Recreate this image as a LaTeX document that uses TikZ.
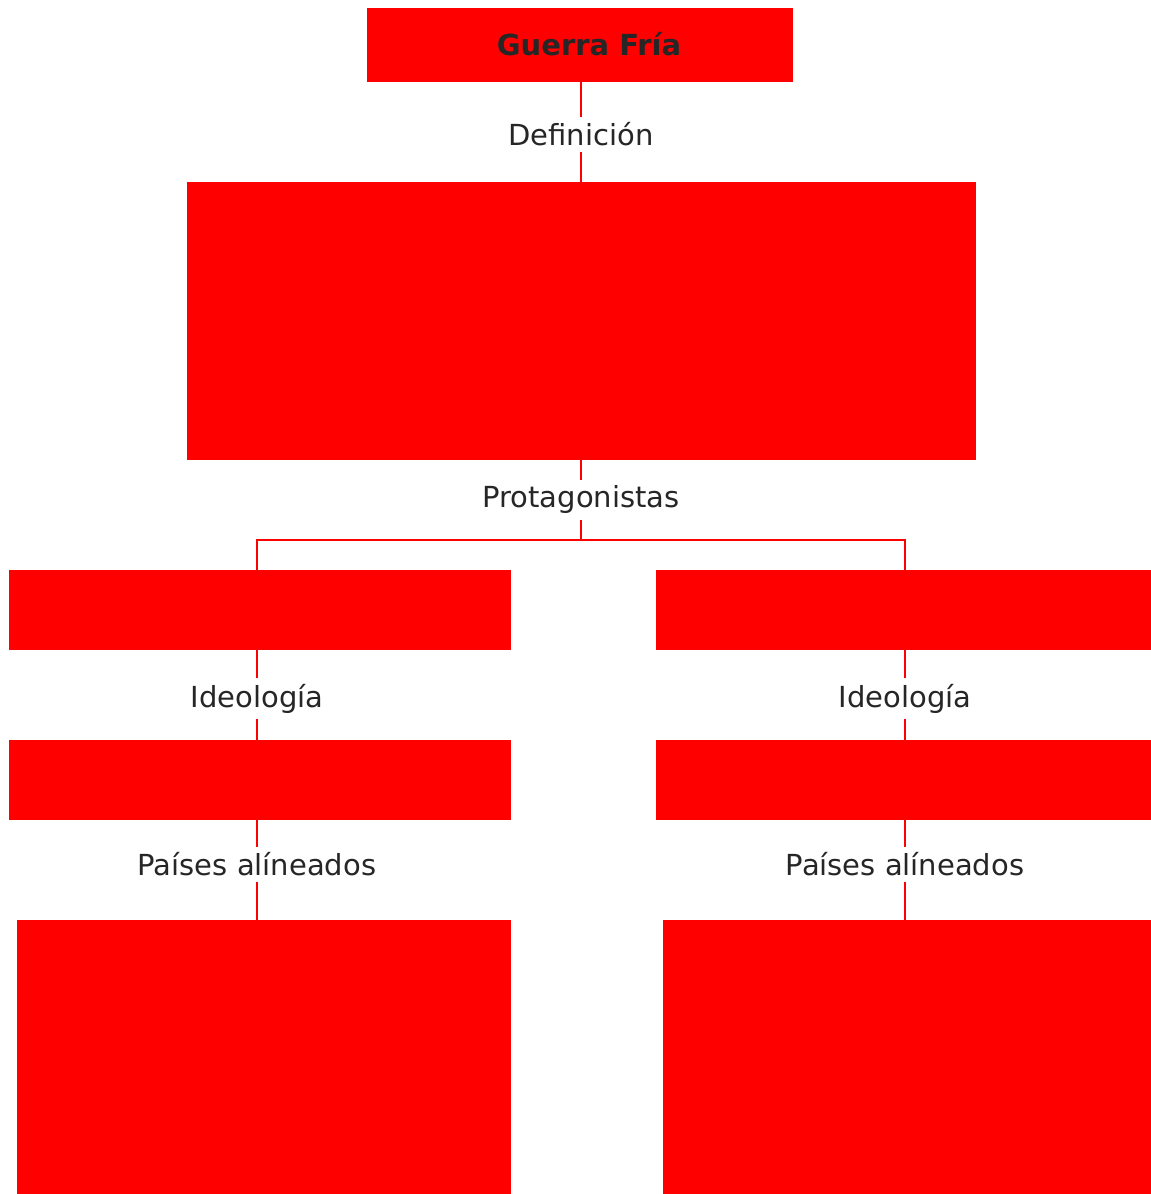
\documentclass[tikz,border=0pt]{standalone}
\usepackage{fontspec}
\setmainfont{DejaVu Sans}
\usetikzlibrary{
    positioning,
    calc
}
\definecolor{boxred}{HTML}{FF0000}
\definecolor{ink}{HTML}{262626}
\tikzset {
    red box/.style = {rectangle, fill = boxred, draw = boxred, inner sep = 0pt},
    link/.style = {draw = boxred, line width = 2pt},
    edge label/.style = {fill = white, text = ink, inner sep = 6pt,
        font = \fontsize{29}{33}\selectfont},
    title/.style = {text = ink, font = \fontsize{29}{33}\selectfont\bfseries}
}
\begin{document}
\begin{tikzpicture}[x = 1pt, y = 1pt]
            \useasboundingbox (0, 0) rectangle (1151, -1194);
            \coordinate (colL) at (257, 0);
            \coordinate (colR) at (905, 0);
            \coordinate (fork) at (581, -540);
            % boxes
            \node (guerra) [red box, minimum width = 425pt, minimum height = 73pt] at (580, -44.5) {};
            \node [title] at (589, -44.5) {Guerra Fría};
            \node (def) [red box, minimum width = 788pt, minimum height = 277pt] at (581, -320.5) {};
            \node (protL) [red box, minimum width = 501pt, minimum height = 79pt] at (259.5, -609.5) {};
            \node (protR) [red box, minimum width = 495pt, minimum height = 79pt] at (903.5, -609.5) {};
            \node (ideoL) [red box, minimum width = 501pt, minimum height = 79pt] at (259.5, -779.5) {};
            \node (ideoR) [red box, minimum width = 495pt, minimum height = 79pt] at (903.5, -779.5) {};
            \node (paisL) [red box, minimum width = 493pt, minimum height = 274pt] at (263.5, -1057) {};
            \node (paisR) [red box, minimum width = 488pt, minimum height = 274pt] at (907, -1057) {};
            % connectors
            \draw [link] (guerra.south -| def.north) -- (def.north)
                node [edge label, midway, yshift = -3pt] {Definición};
            \draw [link] (def.south) -- (fork)
                node [edge label, midway] {Protagonistas};
            \draw [link] (protL.north -| colL) |- (fork) -| (protR.north -| colR);
            \draw [link] (protL.south -| colL) -- (ideoL.north -| colL)
                node [edge label, midway, yshift = -4pt] {Ideología};
            \draw [link] (protR.south -| colR) -- (ideoR.north -| colR)
                node [edge label, midway, yshift = -4pt] {Ideología};
            \draw [link] (ideoL.south -| colL) -- (paisL.north -| colL)
                node [edge label, midway, yshift = 5pt] {Países alíneados};
            \draw [link] (ideoR.south -| colR) -- (paisR.north -| colR)
                node [edge label, midway, yshift = 5pt] {Países alíneados};
        \end{tikzpicture}
\end{document}
